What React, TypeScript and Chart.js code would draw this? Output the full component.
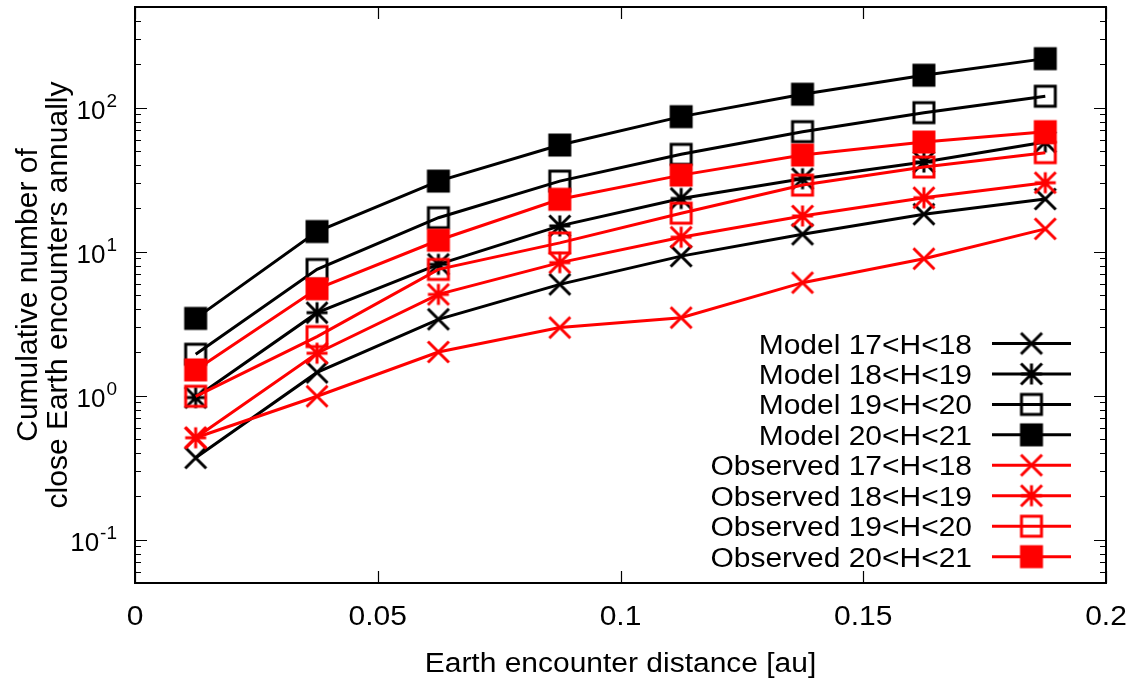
import React, { useEffect, useRef } from 'react';
import { Chart, registerables } from 'chart.js';

Chart.register(...registerables);

// ---- data ----
const distances = [0.0125, 0.0375, 0.0625, 0.0875, 0.1125, 0.1375, 0.1625, 0.1875];
const model17to18 = [0.37, 1.45, 3.39, 5.93, 9.31, 13.2, 18.2, 23.2];
const model18to19 = [0.97, 3.77, 8.16, 15.1, 23.4, 32.1, 41.9, 57.7];
const model19to20 = [1.94, 7.53, 17.2, 30.9, 47.4, 68.1, 92.3, 120];
const model20to21 = [3.44, 13.8, 30.9, 55, 86.6, 124, 168, 219];
const observed17to18 = [0.51, 0.99, 2.01, 2.97, 3.48, 6.09, 8.93, 14.4];
const observed18to19 = [0.51, 1.97, 5.05, 8.39, 12.6, 17.7, 23.7, 30.1];
const observed19to20 = [0.99, 2.57, 7.53, 11.5, 18.5, 29.0, 38.7, 48.7];
const observed20to21 = [1.51, 5.52, 12.0, 23.1, 34.0, 46.9, 57.7, 68.1];

const seriesLabels = [
  'Model 17<H<18',
  'Model 18<H<19',
  'Model 19<H<20',
  'Model 20<H<21',
  'Observed 17<H<18',
  'Observed 18<H<19',
  'Observed 19<H<20',
  'Observed 20<H<21',
];
const seriesValues = [
  model17to18, model18to19, model19to20, model20to21,
  observed17to18, observed18to19, observed19to20, observed20to21,
];

const xTickValues = [0, 0.05, 0.1, 0.15, 0.2];
const xTickLabels = ['0', '0.05', '0.1', '0.15', '0.2'];
const yTickExponents = [-1, 0, 1, 2];
const xTitle = 'Earth encounter distance [au]';
const yTitleLines = ['Cumulative number of', 'close Earth encounters annually'];

// ---- styles ----
const seriesColors = ['#000000', '#000000', '#000000', '#000000', '#ff0000', '#ff0000', '#ff0000', '#ff0000'];
const seriesMarkers = ['x', 'star', 'open', 'filled', 'x', 'star', 'open', 'filled'];
const FONT = '"Liberation Sans", Arial, Helvetica, sans-serif';
const STRETCH = 1.11;

function makeMarker(kind: string, color: string): HTMLCanvasElement {
  const c = document.createElement('canvas');
  c.width = 30;
  c.height = 30;
  const g = c.getContext('2d') as CanvasRenderingContext2D;
  const m = 15;
  const s = 10.5;
  g.strokeStyle = color;
  g.fillStyle = color;
  g.lineWidth = 3;
  if (kind === 'x' || kind === 'star') {
    g.beginPath();
    g.moveTo(m - s, m - s);
    g.lineTo(m + s, m + s);
    g.moveTo(m - s, m + s);
    g.lineTo(m + s, m - s);
    if (kind === 'star') {
      g.moveTo(m, m - s);
      g.lineTo(m, m + s);
      g.moveTo(m - s, m);
      g.lineTo(m + s, m);
    }
    g.stroke();
  } else if (kind === 'open') {
    g.strokeRect(m - 10, m - 10, 20, 20);
  } else {
    g.fillRect(m - 11.5, m - 11.5, 23, 23);
  }
  return c;
}

function stretchedText(ctx: CanvasRenderingContext2D, text: string, x: number, y: number, align: CanvasTextAlign) {
  ctx.save();
  ctx.translate(x, y);
  ctx.scale(STRETCH, 1);
  ctx.textAlign = align;
  ctx.fillText(text, 0, 0);
  ctx.restore();
}

export default function App() {
  const canvasRef = useRef<HTMLCanvasElement | null>(null);

  useEffect(() => {
    const canvas = canvasRef.current;
    if (!canvas) return;
    const markers = seriesMarkers.map((k, i) => makeMarker(k, seriesColors[i]));

    const framePlugin = {
      id: 'gnuplotFrame',
      afterDraw(chart: any) {
        const ctx: CanvasRenderingContext2D = chart.ctx;
        const area = chart.chartArea;
        const xs = chart.scales.x;
        const ys = chart.scales.y;
        ctx.save();
        ctx.strokeStyle = '#000';
        ctx.fillStyle = '#000';

        // ticks
        ctx.lineWidth = 1.2;
        ctx.beginPath();
        xTickValues.forEach((v) => {
          const px = Math.round(xs.getPixelForValue(v)) + 0.5;
          ctx.moveTo(px, area.bottom);
          ctx.lineTo(px, area.bottom - 12);
          ctx.moveTo(px, area.top);
          ctx.lineTo(px, area.top + 12);
        });
        const yMin = ys.min;
        const yMax = ys.max;
        for (let e = -2; e <= 3; e++) {
          for (let k = 1; k <= 9; k++) {
            const v = k * Math.pow(10, e);
            if (v < yMin * 0.999 || v > yMax * 1.001) continue;
            const len = k === 1 ? 12 : 6;
            const py = Math.round(ys.getPixelForValue(v)) + 0.5;
            ctx.moveTo(area.left, py);
            ctx.lineTo(area.left + len, py);
            ctx.moveTo(area.right, py);
            ctx.lineTo(area.right - len, py);
          }
        }
        ctx.stroke();

        // frame
        ctx.lineWidth = 2;
        ctx.strokeRect(area.left, area.top, area.right - area.left, area.bottom - area.top);

        // x tick labels
        ctx.font = `27px ${FONT}`;
        ctx.textBaseline = 'alphabetic';
        xTickValues.forEach((v, i) => {
          stretchedText(ctx, xTickLabels[i], xs.getPixelForValue(v), area.bottom + 42, 'center');
        });

        // y tick labels 10^n
        yTickExponents.forEach((e) => {
          const py = ys.getPixelForValue(Math.pow(10, e));
          const base = '10';
          const exp = String(e);
          ctx.font = `26px ${FONT}`;
          const wb = ctx.measureText(base).width;
          ctx.font = `19px ${FONT}`;
          const we = ctx.measureText(exp).width;
          const right = 116;
          const x0 = right - wb - we;
          ctx.textAlign = 'left';
          ctx.font = `26px ${FONT}`;
          ctx.fillText(base, x0, py + 11);
          ctx.font = `19px ${FONT}`;
          ctx.fillText(exp, x0 + wb + 1, py - 1);
        });

        // x title
        ctx.font = `27px ${FONT}`;
        stretchedText(ctx, xTitle, (area.left + area.right) / 2, 672, 'center');

        // y title (two rotated lines)
        ctx.font = `30px ${FONT}`;
        const cy = (area.top + area.bottom) / 2;
        const baseX = [37, 67];
        yTitleLines.forEach((line, i) => {
          ctx.save();
          ctx.translate(baseX[i], cy);
          ctx.rotate(-Math.PI / 2);
          ctx.textAlign = 'center';
          ctx.textBaseline = 'alphabetic';
          ctx.fillText(line, 0, 0);
          ctx.restore();
        });

        // legend
        const rowTop = 343.5;
        const rowStep = 30.45;
        ctx.font = `27px ${FONT}`;
        seriesLabels.forEach((label, i) => {
          const ry = rowTop + i * rowStep;
          ctx.fillStyle = '#000';
          stretchedText(ctx, label, 972, ry + 10, 'right');
          ctx.strokeStyle = seriesColors[i];
          ctx.lineWidth = 3;
          ctx.beginPath();
          ctx.moveTo(992, ry);
          ctx.lineTo(1071, ry);
          ctx.stroke();
          const mk = markers[i];
          ctx.drawImage(mk, 1031.5 - mk.width / 2, ry - mk.height / 2);
        });
        ctx.restore();
      },
    };

    const chart = new Chart(canvas, {
      type: 'line',
      data: {
        datasets: seriesLabels.map((label, i) => ({
          label,
          data: distances.map((d, j) => ({ x: d, y: seriesValues[i][j] })),
          borderColor: seriesColors[i],
          backgroundColor: seriesColors[i],
          borderWidth: 3,
          pointStyle: markers[i] as any,
          pointRadius: 11,
          pointHoverRadius: 11,
          tension: 0,
          fill: false,
          order: seriesLabels.length - 1 - i,
        })),
      },
      options: {
        responsive: false,
        animation: false,
        events: [],
        layout: { autoPadding: false, padding: { left: 135, top: 7, right: 28, bottom: 95 } },
        plugins: { legend: { display: false }, tooltip: { enabled: false }, title: { display: false } },
        scales: {
          x: { type: 'linear', min: 0, max: 0.2, display: false },
          y: { type: 'logarithmic', min: 0.05, max: 500, display: false },
        },
      },
      plugins: [framePlugin],
    });
    return () => chart.destroy();
  }, []);

  return (
    <div style={{ position: 'fixed', left: 0, top: 0, width: 1134, height: 678, background: '#fff' }}>
      <canvas ref={canvasRef} width={1134} height={678} style={{ display: 'block' }} />
    </div>
  );
}
